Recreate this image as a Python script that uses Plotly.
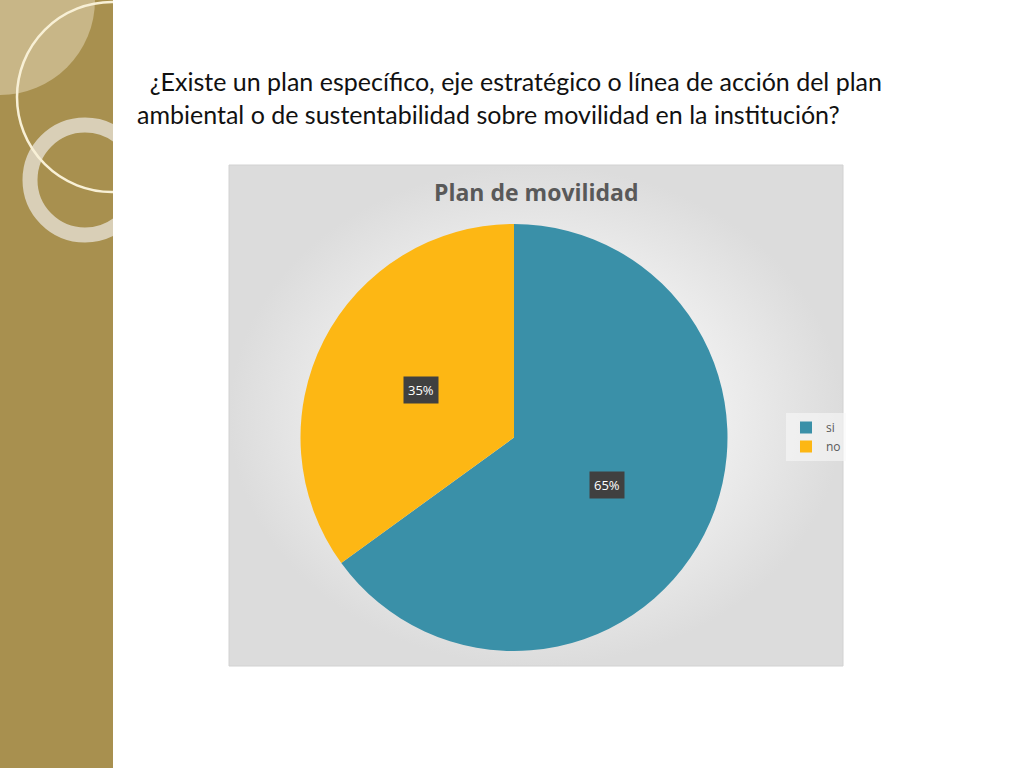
import plotly.graph_objects as go
import math

# datos del gráfico
labels = ['si', 'no']
values = [65, 35]
colors = ['#3A90A8', '#FDB714']
pct_text = ['65%', '35%']

slide_title = ('&nbsp;&nbsp;¿Existe un plan específico, eje estratégico o línea de acción del plan<br>'
               'ambiental o de sustentabilidad sobre movilidad en la institución?')
chart_title = 'Plan de movilidad'

W, H = 1024, 768

# caja del gráfico (px) y dominio de la torta
box = dict(x0=229, x1=843, y0=165, y1=666)
pie_x = [300 / W, 728 / W]
pie_y = [1 - 651 / H, 1 - 224 / H]

fig = go.Figure()

# fondo gris con degradado radial
fig.add_trace(go.Scatter(
    x=[box['x0'], box['x1'], box['x1'], box['x0'], box['x0']],
    y=[box['y0'], box['y0'], box['y1'], box['y1'], box['y0']],
    mode='lines', fill='toself',
    line=dict(color='#d2d2d2', width=1),
    fillgradient=dict(type='radial', colorscale=[[0, '#f6f6f6'], [0.6, '#eeeeee'], [1, '#dcdcdc']]),
    hoverinfo='skip', showlegend=False, xaxis='x', yaxis='y'
))

# tira decorativa izquierda (eje propio para recortar los círculos)
fig.add_trace(go.Scatter(x=[0, 113], y=[0, 768], mode='markers', marker=dict(opacity=0),
                         hoverinfo='skip', showlegend=False, xaxis='x2', yaxis='y2'))

fig.add_trace(go.Pie(
    labels=labels, values=values,
    marker=dict(colors=colors, line=dict(width=0)),
    sort=False, direction='clockwise', rotation=0,
    textinfo='none', hoverinfo='label+percent',
    domain=dict(x=pie_x, y=pie_y)
))

# etiquetas de porcentaje en cajas oscuras, en el ángulo medio de cada porción
cx = (pie_x[0] + pie_x[1]) / 2
cy = (pie_y[0] + pie_y[1]) / 2
r_px = min((pie_x[1] - pie_x[0]) * W, (pie_y[1] - pie_y[0]) * H) / 2
total = sum(values)
annotations = []
acc = 0
for v, t in zip(values, pct_text):
    mid = (acc + v / 2) / total * 2 * math.pi
    acc += v
    d = 0.49 * r_px
    annotations.append(dict(
        x=cx + d * math.sin(mid) / W, y=cy + d * math.cos(mid) / H,
        xref='paper', yref='paper', xanchor='center', yanchor='middle',
        text=t, showarrow=False,
        font=dict(family='Open Sans', size=13, color='white'),
        bgcolor='#404040', borderpad=4
    ))

annotations.append(dict(
    x=135 / W, y=1 - 64 / H, xref='paper', yref='paper', xanchor='left', yanchor='top',
    text=slide_title, align='left', showarrow=False,
    font=dict(family='Lato', size=25, color='#111111')
))
annotations.append(dict(
    x=536 / W, y=1 - 192 / H, xref='paper', yref='paper', xanchor='center', yanchor='middle',
    text='<b>' + chart_title + '</b>', showarrow=False,
    font=dict(family='Open Sans', size=23, color='#595959')
))

shapes = [
    dict(type='rect', xref='x2', yref='y2', x0=0, x1=113, y0=0, y1=768,
         fillcolor='#A8904F', line=dict(width=0), layer='below'),
    dict(type='circle', xref='x2', yref='y2', x0=-95, x1=95, y0=-95, y1=95,
         fillcolor='#C8B687', line=dict(width=0), layer='below'),
    dict(type='circle', xref='x2', yref='y2', x0=85 - 55, x1=85 + 55, y0=180 - 55, y1=180 + 55,
         fillcolor='rgba(0,0,0,0)', line=dict(color='rgba(222,214,194,0.9)', width=15), layer='above'),
    dict(type='circle', xref='x2', yref='y2', x0=112 - 95, x1=112 + 95, y0=97 - 95, y1=97 + 95,
         fillcolor='rgba(0,0,0,0)', line=dict(color='#F8F0D6', width=2.5), layer='above'),
]

fig.update_layout(
    width=W, height=H,
    margin=dict(l=0, r=0, t=0, b=0),
    paper_bgcolor='white', plot_bgcolor='rgba(0,0,0,0)',
    xaxis=dict(domain=[0, 1], range=[0, W], visible=False, fixedrange=True),
    yaxis=dict(domain=[0, 1], range=[H, 0], visible=False, fixedrange=True),
    xaxis2=dict(domain=[0, 113 / W], range=[0, 113], visible=False, fixedrange=True, anchor='y2'),
    yaxis2=dict(domain=[0, 1], range=[H, 0], visible=False, fixedrange=True, anchor='x2'),
    showlegend=True,
    legend=dict(x=786 / W, y=1 - 413 / H, xanchor='left', yanchor='top',
                bgcolor='rgba(248,248,248,0.6)', font=dict(family='Open Sans', size=12, color='#595959'),
                itemwidth=30),
    annotations=annotations,
    shapes=shapes,
)

# quitar el margen del body para que la figura ocupe la ventana completa
fig.write_html('out.html', config={'displayModeBar': False},
               post_script="document.body.style.margin='0px';")
